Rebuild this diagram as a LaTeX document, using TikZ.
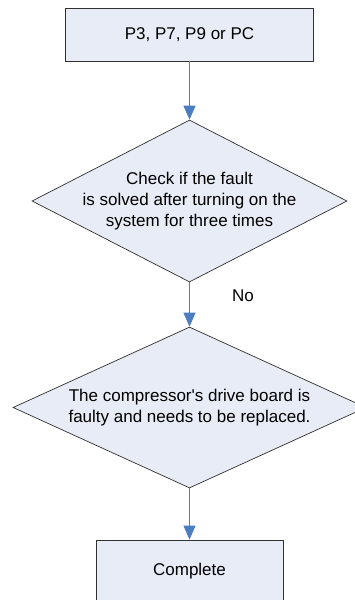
\documentclass[tikz,border=0pt]{standalone}
\usepackage{fontspec}
\setmainfont{Liberation Sans}[Ligatures=TeXOff]
\usetikzlibrary{shapes.geometric,arrows.meta}
\definecolor{boxfill}{HTML}{E8ECF6}
\definecolor{arrowblue}{HTML}{4A7EBF}
\definecolor{edgegray}{HTML}{303030}
\tikzset{
  procbox/.style={draw=edgegray, line width=0.8pt, fill=boxfill, inner sep=0pt},
  decbox/.style={diamond, draw=edgegray, line width=0.7pt, fill=boxfill, inner sep=0pt},
  lbl/.style={font=\fontsize{17}{21}\selectfont, align=center, inner sep=0pt},
  arr/.style={draw=arrowblue, line width=1pt, -{Triangle[length=14pt,width=12pt]}}
}
\begin{document}
\begin{tikzpicture}[x=1pt,y=-1pt]
\useasboundingbox (0,0) rectangle (355,600);
\clip (0,0) rectangle (355,600);
\node[procbox, minimum width=248pt, minimum height=53pt] (b1) at (189.5,34.5) {};
\node[lbl] (t1) at (b1) {P3, P7, P9 or PC};
\node[decbox, minimum width=315pt, minimum height=162pt] (d1) at (189.5,201) {};
\node[lbl] (t2) at (d1) {Check if the fault\\is solved after turning on the\\system for three times};
\node[decbox, minimum width=353pt, minimum height=161pt] (d2) at (189.5,407.5) {};
\node[lbl] (t3) at (d2) {The compressor's drive board is\\faulty and needs to be replaced.};
\node[procbox, minimum width=187pt, minimum height=62pt] (b2) at (189.5,571) {};
\node[lbl] (t4) at (b2) {Complete};
\node[lbl, anchor=west] (no) at (232,296) {No};
\draw[arr] (b1.south) -- (d1.north);
\draw[arr] (d1.south) -- (d2.north);
\draw[arr] (d2.south) -- (b2.north);
\end{tikzpicture}
\end{document}
